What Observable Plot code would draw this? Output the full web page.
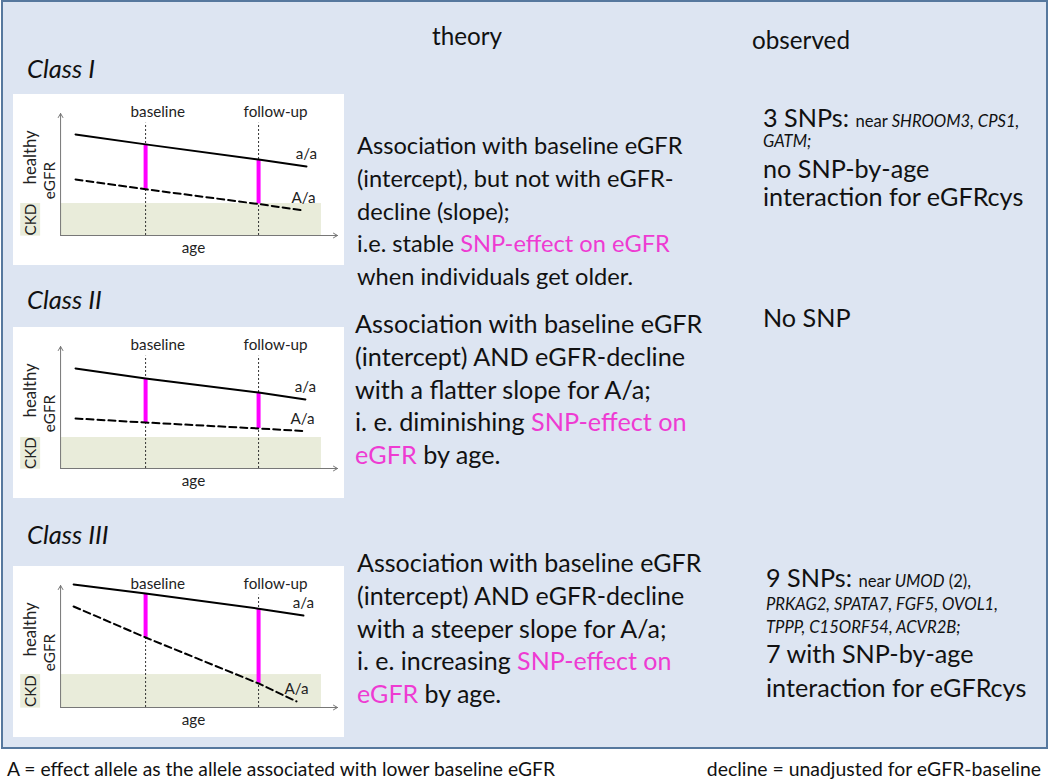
<!DOCTYPE html>
<html><head><meta charset="utf-8">
<script src="https://cdn.jsdelivr.net/npm/d3@7"></script>
<script src="https://cdn.jsdelivr.net/npm/@observablehq/plot@0.6"></script>
<style>
html,body{margin:0;padding:0;background:#fff;}
#root{position:relative;width:1050px;height:781px;overflow:hidden;font-family:Lato,"Open Sans",sans-serif;}
#panel{position:absolute;left:1px;top:0;width:1047px;height:749px;box-sizing:border-box;background:#dde5f2;border:2px solid #56789e;}
.mini{position:absolute;width:331px;height:171px;background:#fff;}
.mini svg{display:block;}
</style></head><body><div id="root"><div id="panel"></div></div>
<script>
// ---------- data ----------
const classes = ["Class I", "Class II", "Class III"];
const genotypes = ["a/a", "A/a"];
const eventLabels = ["baseline", "follow-up"];
const eventAges = [30.7, 71.5];
const startAge = [5.4, 5.4, 4.7];
const endAgeAA = [88.8, 88.4, 87.7];
const endAgeAa = [87.7, 87.4, 85.2];
const egfrAA = [[82.8, 74.7, 62.2, 56.6], [82.0, 73.8, 62.3, 56.6], [100.8, 93.4, 81.0, 75.4]];
const egfrAa = [[45.9, 37.9, 25.8, 20.5], [41.0, 37.7, 32.8, 30.8], [82.8, 57.4, 19.7, 5.0]];
const ckdLimit = [26.2, 25.4, 27.0];
const axisTexts = ["age", "eGFR", "healthy", "CKD"];
const columnHeads = ["theory", "observed"];
const theory = [
  ["Association with baseline eGFR", "(intercept), but not with eGFR-", "decline (slope);", "i.e. stable {SNP-effect on eGFR}", "when individuals get older."],
  ["Association with baseline eGFR", "(intercept) AND eGFR-decline", "with a flatter slope for A/a;", "i. e. diminishing {SNP-effect on}", "{eGFR} by age."],
  ["Association with baseline eGFR", "(intercept) AND eGFR-decline", "with a steeper slope for A/a;", "i. e. increasing  {SNP-effect on}", "{eGFR} by age."]
];
const observed = [
  ["3 SNPs: ~near ~*SHROOM3, CPS1,*", "*GATM;*", "no SNP-by-age", "interaction for eGFRcys"],
  ["No SNP"],
  ["9 SNPs: ~near ~*UMOD*~ (2),~", "*PRKAG2, SPATA7, FGF5, OVOL1,*", "*TPPP, C15ORF54, ACVR2B;*", "7 with SNP-by-age", "interaction for eGFRcys"]
];
const footnotes = ["A = effect allele as the allele associated with lower baseline eGFR", "decline = unadjusted for eGFR-baseline"];

// ---------- helpers ----------
const ctx = document.createElement("canvas").getContext("2d");
function fit(text, target, style = "") {
  ctx.font = `${style} 100px Lato`;
  return 100 * target / ctx.measureText(text).width;
}
const PINK = "#ee3bd2";
const miniFs = fit("follow-up", 64);
const healthyFs = fit("healthy", 54);
const root = document.getElementById("root");

function mini(i) {
  const pts = (ages, vals) => ages.map((a, j) => ({age: a, egfr: vals[j]}));
  const aa = pts([startAge[i], ...eventAges, endAgeAA[i]], egfrAA[i]);
  const Aa = pts([startAge[i], ...eventAges, endAgeAa[i]], egfrAa[i]);
  const ev = eventAges.map((a, j) => ({age: a, label: eventLabels[j], lo: egfrAa[i][j + 1], hi: egfrAA[i][j + 1]}));
  const ends = [
    {g: genotypes[0], age: endAgeAA[i], egfr: egfrAA[i][3]},
    {g: genotypes[1], age: endAgeAa[i], egfr: egfrAa[i][3]}
  ];
  const ckd = [ckdLimit[i]];
  const txt = {fill: "#222", fontSize: miniFs};
  return Plot.plot({
    width: 331, height: 171,
    marginLeft: 0, marginRight: 7, marginTop: 19, marginBottom: 30,
    x: {domain: [-17, 100], axis: null},
    y: {domain: [0, 100], axis: null},
    style: {background: "#fff", fontFamily: "Lato", overflow: "visible"},
    marks: [
      Plot.rect(ckd, {x1: 0, x2: 94.2, y1: 0, y2: d => d, fill: "#e9ecda"}),
      Plot.rect(ckd, {x1: -14.4, x2: -7.2, y1: -0.5, y2: d => d, fill: "#e9ecda"}),
      Plot.ruleX(ev, {x: "age", y1: 0, y2: 92, stroke: "#333", strokeWidth: 1, strokeDasharray: "2,2"}),
      Plot.text(ev, {x: "age", y: 101, text: "label", textAnchor: "start", dx: -15, ...txt}),
      Plot.arrow([0], {x1: 0, y1: 0, x2: 0, y2: 100, stroke: "#777", strokeWidth: 1, headLength: 7}),
      Plot.arrow([0], {x1: 0, y1: 0, x2: 100, y2: 0, stroke: "#777", strokeWidth: 1, headLength: 7}),
      Plot.ruleX(ev, {x: "age", y1: "lo", y2: "hi", stroke: "#ff00ff", strokeWidth: 4}),
      Plot.line(aa, {x: "age", y: "egfr", stroke: "#000", strokeWidth: 2}),
      Plot.line(Aa, {x: "age", y: "egfr", stroke: "#000", strokeWidth: 2, strokeDasharray: "7,4"}),
      Plot.text(ends, {x: "age", y: "egfr", text: "g", dy: -12, ...txt}),
      Plot.text([axisTexts[0]], {x: 48, y: -10, text: d => d, ...txt}),
      Plot.text([axisTexts[1]], {x: -3.6, y: 45, text: d => d, rotate: -90, ...txt}),
      Plot.text([axisTexts[2]], {x: -10.8, y: 64, text: d => d, rotate: -90, ...txt, fontSize: healthyFs}),
      Plot.text([axisTexts[3]], {x: -10.8, y: ckdLimit[i] / 2, text: d => d, rotate: -90, ...txt})
    ]
  });
}

const boxTops = [94, 327, 566];
classes.forEach((c, i) => {
  const d = document.createElement("div");
  d.className = "mini";
  d.style.left = "13px";
  d.style.top = boxTops[i] + "px";
  d.appendChild(mini(i));
  root.appendChild(d);
});

// ---------- text overlay ----------
const svg = d3.select(root).append("svg")
  .attr("width", 1050).attr("height", 781)
  .style("position", "absolute").style("left", 0).style("top", 0)
  .style("font-family", "Lato").style("white-space", "pre");

const obsBig = fit("interaction for eGFRcys", 261);
const obsSmall = fit("PRKAG2, SPATA7, FGF5, OVOL1,", 232, "italic");

function textLine(x, y, str, fs, opts = {}) {
  const t = svg.append("text").attr("x", x).attr("y", y).attr("font-size", fs).attr("fill", "#111");
  if (opts.italic) t.attr("font-style", "italic");
  if (opts.anchor) t.attr("text-anchor", opts.anchor);
  str.split(/(\{[^}]*\}|~[^~]*~|\*[^*]*\*)/).filter(s => s.length).forEach(s => {
    const ts = t.append("tspan");
    if (s[0] === "{") ts.text(s.slice(1, -1)).attr("fill", PINK);
    else if (s[0] === "~") ts.text(s.slice(1, -1)).attr("font-size", obsSmall);
    else if (s[0] === "*") ts.text(s.slice(1, -1)).attr("font-size", obsSmall).attr("font-style", "italic");
    else ts.text(s);
  });
  return t;
}

// column heads
const headFs = fit(columnHeads[1], 98);
textLine(467, 45, columnHeads[0], headFs, {anchor: "middle"});
textLine(752, 49, columnHeads[1], headFs);

// class labels
const classFs = fit("Class I", 68, "italic");
const classBase = [78, 309, 544];
classes.forEach((c, i) => textLine(27, classBase[i], c, classFs, {italic: true}));

// theory
const theoryX = [357, 355, 357];
const theoryBase = [154, 333, 572];
const theoryW = [326, 348, 345];
theory.forEach((lines, i) => {
  const fs = fit(lines[0], theoryW[i]);
  lines.forEach((l, k) => textLine(theoryX[i], theoryBase[i] + 32.8 * k, l, fs));
});

// observed
const obsX = [763, 763, 766];
const obsBase = [[127, 147, 178, 206], [327], [587, 610, 633, 663, 697]];
observed.forEach((lines, i) => {
  lines.forEach((l, k) => {
    const fs = (l[0] === "*") ? obsSmall : obsBig;
    textLine(obsX[i], obsBase[i][k], l, fs);
  });
});

// footnotes
textLine(7, 776, footnotes[0], fit(footnotes[0], 550));
textLine(1041, 776, footnotes[1], fit(footnotes[1], 335), {anchor: "end"});
</script></body></html>
